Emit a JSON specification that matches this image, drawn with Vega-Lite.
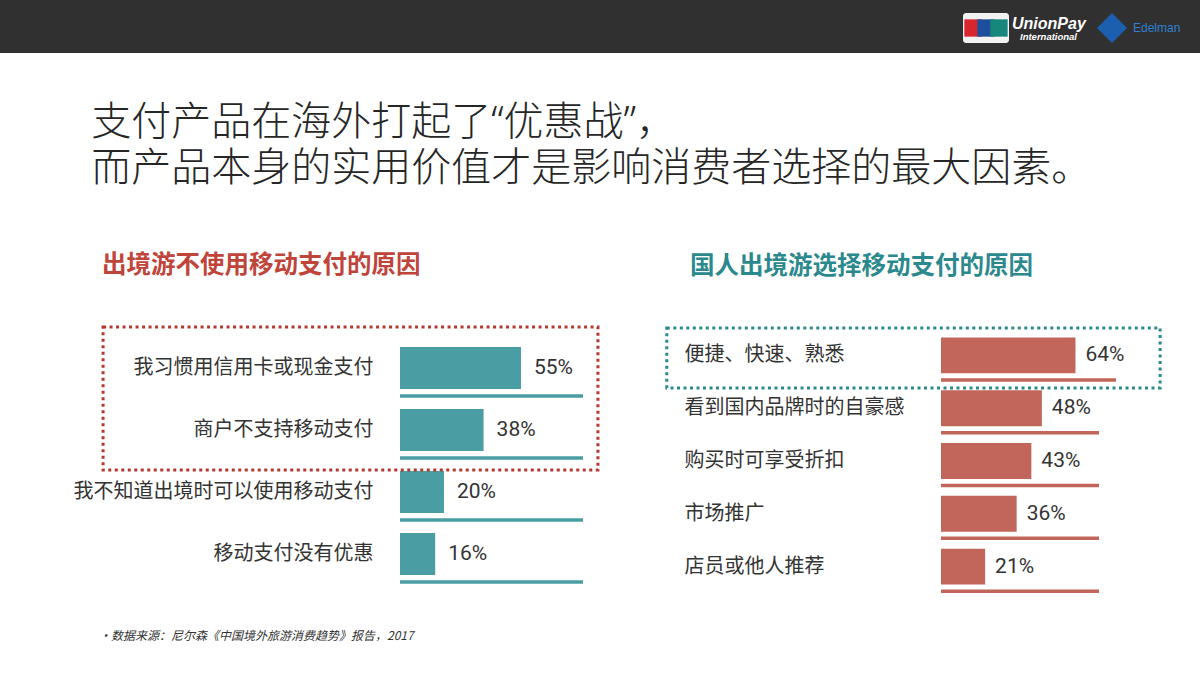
{
  "$schema": "https://vega.github.io/schema/vega-lite/v6.json",
  "padding": 0,
  "background": "#ffffff",
  "config": {"view": {"stroke": null}, "font": "Noto Sans CJK SC"},
  "title": {
    "text": "•数据来源：尼尔森《中国境外旅游消费趋势》报告，2017",
    "orient": "bottom", "anchor": "start", "dx": 99, "offset": 38,
    "fontSize": 12, "fontStyle": "italic", "fontWeight": "normal",
    "color": "#333333", "font": "Noto Sans CJK SC"
  },
  "spacing": 50,
  "columns": 1,
  "concat": [
    {
      "width": 800,
      "height": 53,
      "view": {"stroke": null},
      "data": {"values": [{}]},
      "layer": [
        {"mark": {"type": "rect", "color": "#303030", "x": -400, "x2": 800, "y": 0, "y2": 53}, "encoding": {}},
        {"mark": {"type": "rect", "color": "#f2f2f2", "x": 563, "x2": 609, "y": 13, "y2": 43, "cornerRadius": 3}, "encoding": {}},
        {"mark": {"type": "point", "shape": "square", "filled": true, "color": "#d7262d", "size": 300, "x": 573, "y": 28, "opacity": 1}, "encoding": {}},
        {"mark": {"type": "point", "shape": "square", "filled": true, "color": "#1d4f9c", "size": 300, "x": 586, "y": 28, "opacity": 1}, "encoding": {}},
        {"mark": {"type": "point", "shape": "square", "filled": true, "color": "#16877a", "size": 300, "x": 599, "y": 28, "opacity": 1}, "encoding": {}},
        {"mark": {"type": "text", "text": "UnionPay", "x": 612, "y": 24, "align": "left", "baseline": "middle", "fontSize": 16, "fontWeight": "bold", "fontStyle": "italic", "color": "#ffffff", "font": "Liberation Sans"}, "encoding": {}},
        {"mark": {"type": "text", "text": "International", "x": 620, "y": 37, "align": "left", "baseline": "middle", "fontSize": 9.5, "fontWeight": "bold", "fontStyle": "italic", "color": "#ffffff", "font": "Liberation Sans"}, "encoding": {}},
        {"mark": {"type": "point", "shape": "diamond", "filled": true, "color": "#1c5fae", "size": 900, "x": 712, "y": 28, "opacity": 1}, "encoding": {}},
        {"mark": {"type": "text", "text": "Edelman", "x": 733, "y": 28, "align": "left", "baseline": "middle", "fontSize": 12, "color": "#2f80cf", "font": "Liberation Sans"}, "encoding": {}}
      ]
    },
    {
      "title": {
        "text": ["支付产品在海外打起了“优惠战”，", "而产品本身的实用价值才是影响消费者选择的最大因素。"],
        "anchor": "start", "dx": 91, "offset": 64,
        "fontSize": 40, "fontWeight": 300, "lineHeight": 46,
        "color": "#262626", "font": "Noto Sans, Noto Sans CJK SC"
      },
      "spacing": 65,
      "hconcat": [
        {
          "width": 183,
          "height": 264,
          "title": {
            "text": "出境游不使用移动支付的原因",
            "anchor": "start", "frame": "group", "dx": -298, "offset": 47,
            "fontSize": 24.5, "fontWeight": "bold", "color": "#c0443a", "font": "Noto Sans CJK SC"
          },
          "data": {"values": [
            {"reason": "我习惯用信用卡或现金支付", "share": 0.55},
            {"reason": "商户不支持移动支付", "share": 0.38},
            {"reason": "我不知道出境时可以使用移动支付", "share": 0.20},
            {"reason": "移动支付没有优惠", "share": 0.16}
          ]},
          "encoding": {
            "y": {
              "field": "reason", "type": "nominal", "sort": null,
              "scale": {"domain": ["我习惯用信用卡或现金支付", "商户不支持移动支付", "我不知道出境时可以使用移动支付", "移动支付没有优惠"], "paddingInner": 0, "paddingOuter": 0.129},
              "axis": {"title": null, "domain": false, "ticks": false, "labelFontSize": 20, "labelColor": "#333333", "labelPadding": 27, "labelLimit": 500, "labelFont": "Noto Sans CJK SC"}
            }
          },
          "layer": [
            {
              "mark": {"type": "rect", "opacity": 0},
              "transform": [{"filter": "datum.reason === '我习惯用信用卡或现金支付'"}],
              "encoding": {
                "x": {"datum": -1.818, "type": "quantitative", "axis": null},
                "x2": {"datum": -1.80}
              }
            },
            {
              "mark": {"type": "rule", "color": "#4a9ea3", "strokeWidth": 3.5},
              "encoding": {
                "y": {"field": "reason", "type": "nominal", "bandPosition": 0.95},
                "x": {"datum": 0, "type": "quantitative", "axis": null},
                "x2": {"datum": 0.832}
              }
            },
            {
              "mark": {"type": "bar", "color": "#4a9ea3", "height": {"band": 0.68}},
              "encoding": {
                "x": {"field": "share", "type": "quantitative", "scale": {"domain": [0, 0.832], "nice": false}, "axis": null}
              }
            },
            {
              "mark": {"type": "text", "align": "left", "baseline": "middle", "dx": 13, "fontSize": 21, "color": "#333333", "font": "Roboto"},
              "encoding": {
                "x": {"field": "share", "type": "quantitative", "axis": null},
                "text": {"field": "share", "type": "quantitative", "format": ".0%"}
              }
            },
            {
              "transform": [{"filter": "datum.reason === '我习惯用信用卡或现金支付'"}],
              "mark": {"type": "rect", "fill": null, "stroke": "#b5382e", "strokeWidth": 3, "strokeDash": [3, 3.5]},
              "encoding": {
                "x": {"datum": -1.35, "type": "quantitative", "axis": null},
                "x2": {"datum": 0.90},
                "y": {"datum": "我习惯用信用卡或现金支付", "type": "nominal", "bandPosition": -0.16},
                "y2": {"datum": "商户不支持移动支付", "bandPosition": 1.145}
              }
            }
          ]
        },
        {
          "width": 158,
          "height": 264,
          "title": {
            "text": "国人出境游选择移动支付的原因",
            "anchor": "start", "frame": "group", "dx": -251, "offset": 47,
            "fontSize": 24.5, "fontWeight": "bold", "color": "#2b898e", "font": "Noto Sans CJK SC"
          },
          "data": {"values": [
            {"reason": "便捷、快速、熟悉", "share": 0.64},
            {"reason": "看到国内品牌时的自豪感", "share": 0.48},
            {"reason": "购买时可享受折扣", "share": 0.43},
            {"reason": "市场推广", "share": 0.36},
            {"reason": "店员或他人推荐", "share": 0.21}
          ]},
          "encoding": {
            "y": {
              "field": "reason", "type": "nominal", "sort": null,
              "scale": {"domain": ["便捷、快速、熟悉", "看到国内品牌时的自豪感", "购买时可享受折扣", "市场推广", "店员或他人推荐"], "paddingInner": 0, "paddingOuter": 0},
              "axis": {"title": null, "domain": false, "ticks": false, "labelFontSize": 20, "labelColor": "#333333", "labelAlign": "left", "labelPadding": 257, "labelLimit": 500, "labelFont": "Noto Sans CJK SC"}
            }
          },
          "layer": [
            {
              "transform": [{"filter": "datum.reason === '便捷、快速、熟悉'"}],
              "mark": {"type": "rule", "color": "#c2655a", "strokeWidth": 3.5},
              "encoding": {
                "y": {"field": "reason", "type": "nominal", "bandPosition": 0.965},
                "x": {"datum": 0, "type": "quantitative", "axis": null},
                "x2": {"datum": 0.833}
              }
            },
            {
              "transform": [{"filter": "datum.reason !== '便捷、快速、熟悉'"}],
              "mark": {"type": "rule", "color": "#c2655a", "strokeWidth": 3.5},
              "encoding": {
                "y": {"field": "reason", "type": "nominal", "bandPosition": 0.965},
                "x": {"datum": 0, "type": "quantitative", "axis": null},
                "x2": {"datum": 0.752}
              }
            },
            {
              "mark": {"type": "bar", "color": "#c2655a", "height": {"band": 0.68}},
              "encoding": {
                "x": {"field": "share", "type": "quantitative", "scale": {"domain": [0, 0.752], "nice": false}, "axis": null}
              }
            },
            {
              "mark": {"type": "text", "align": "left", "baseline": "middle", "dx": 10, "fontSize": 21, "color": "#333333", "font": "Roboto"},
              "encoding": {
                "x": {"field": "share", "type": "quantitative", "axis": null},
                "text": {"field": "share", "type": "quantitative", "format": ".0%"}
              }
            },
            {
              "transform": [{"filter": "datum.reason === '便捷、快速、熟悉'"}],
              "mark": {"type": "rect", "fill": null, "stroke": "#2a8a8c", "strokeWidth": 3, "strokeDash": [3, 3.5]},
              "encoding": {
                "x": {"datum": -1.305, "type": "quantitative", "axis": null},
                "x2": {"datum": 1.043},
                "y": {"datum": "便捷、快速、熟悉", "type": "nominal", "bandPosition": -0.02},
                "y2": {"datum": "便捷、快速、熟悉", "bandPosition": 1.117}
              }
            }
          ]
        }
      ]
    }
  ]
}
